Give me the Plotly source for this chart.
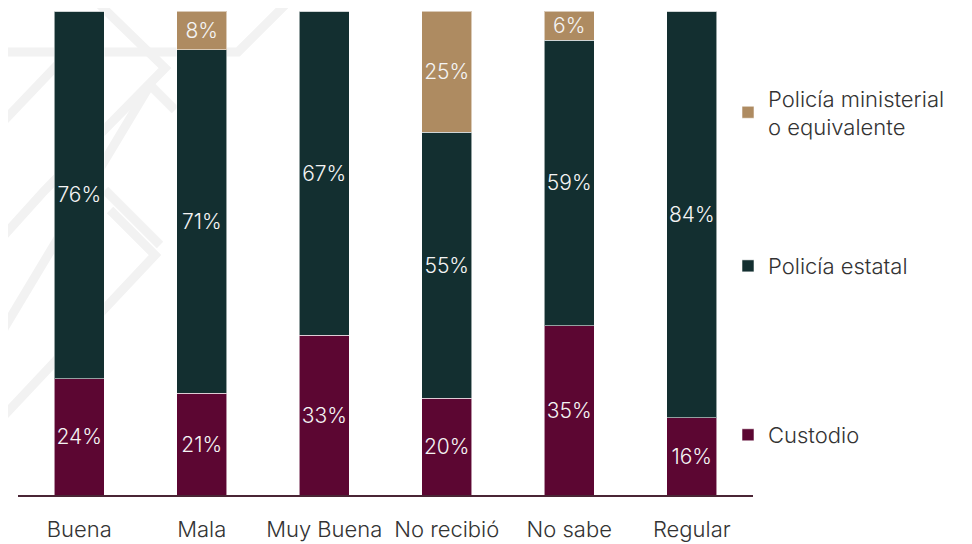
import plotly.graph_objects as go

categories = ["Buena", "Mala", "Muy Buena", "No recibió", "No sabe", "Regular"]
custodio = [24, 21, 33, 20, 35, 16]
estatal = [76, 71, 67, 55, 59, 84]
ministerial = [0, 8, 0, 25, 6, 0]

series = [
    ("Custodio", custodio, "#5C0632", "legend3"),
    ("Policía estatal", estatal, "#132F30", "legend2"),
    ("Policía ministerial<br>o equivalente", ministerial, "#AE8B61", "legend"),
]

FONT = "Inter"

fig = go.Figure()
for name, vals, color, leg in series:
    fig.add_trace(go.Bar(
        x=categories,
        y=vals,
        name=name,
        marker=dict(color=color, line=dict(color="rgba(255,255,255,0.55)", width=1)),
        text=[f"{v}%" if v > 0 else "" for v in vals],
        textposition="inside",
        insidetextanchor="middle",
        textangle=0,
        constraintext="none",
        textfont=dict(color="#F4F4F4", size=21, family=FONT, weight=300),
        width=0.41,
        legend=leg,
        hoverinfo="skip",
    ))

# faint decorative watermark in the upper-left background (page-pixel polylines)
PX_L, PX_R, PY_T, PY_B = 18, 753, 11, 495
def ppath(points):
    segs = []
    for i, (px, py) in enumerate(points):
        xp = (px - PX_L) / (PX_R - PX_L)
        yp = (PY_B - py) / (PY_B - PY_T)
        segs.append(("M" if i == 0 else "L") + f"{xp:.4f},{yp:.4f}")
    return " ".join(segs)

watermark = [
    [(0, 52), (238, 52), (290, 0)],
    [(95, 0), (165, 68), (45, 190), (0, 240)],
    [(0, 125), (60, 62)],
    [(0, 335), (150, 85)],
    [(0, 420), (155, 255), (110, 210)],
    [(105, 190), (160, 245)],
    [(150, 85), (175, 110)],
]
shapes = [
    dict(type="path", xref="paper", yref="paper", path=ppath(p), layer="below",
         line=dict(color="#F2F2F2", width=9))
    for p in watermark
]

leg_common = dict(
    x=0.966, xanchor="left", yanchor="middle",
    font=dict(size=22, family=FONT, color="#333333", weight=300),
    bgcolor="rgba(0,0,0,0)", borderwidth=0,
    itemwidth=30,
)

# page body has an 8px default margin; figure is sized to fit the 972x544 window
fig.update_layout(
    barmode="stack",
    width=964, height=536,
    margin=dict(l=10, r=219, t=3, b=49, autoexpand=False),
    paper_bgcolor="white", plot_bgcolor="rgba(0,0,0,0)",
    showlegend=True,
    legend=dict(y=0.79, **leg_common),
    legend2=dict(y=0.473, **leg_common),
    legend3=dict(y=0.124, **leg_common),
    shapes=shapes,
    xaxis=dict(
        showgrid=False, showline=True, linecolor="#4A2535", linewidth=2,
        ticks="", tickfont=dict(size=22, family=FONT, color="#333333", weight=300),
        ticklabelstandoff=14, range=[-0.5, 5.5],
    ),
    yaxis=dict(visible=False, range=[0, 100], showgrid=False),
    font=dict(family=FONT),
)

fig.write_html("out.html")
